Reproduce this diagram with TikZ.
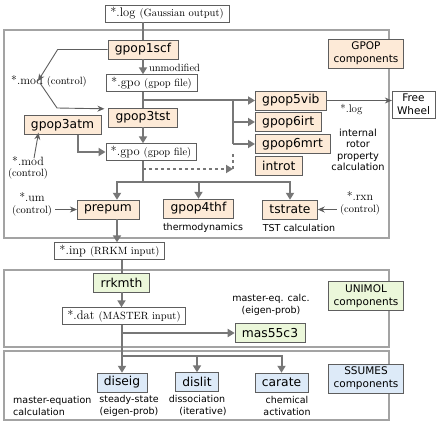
\documentclass[tikz,border=0pt]{standalone}
\usepackage{fontspec}
\setsansfont{DejaVu Sans}
\usetikzlibrary{arrows.meta}
\definecolor{peach}{HTML}{FDEAD7}
\definecolor{mint}{HTML}{EBF7DA}
\definecolor{sky}{HTML}{DDEAF8}
\definecolor{wire}{HTML}{777777}
\definecolor{rim}{HTML}{A3A3A3}
\definecolor{boxedge}{HTML}{5E5E5E}
\newcommand{\ext}[2]{#1 {\fontsize{10.5}{12}\selectfont #2}}

\begin{document}
\begin{tikzpicture}[x=1pt,y=-1pt,
	prog/.style={draw=boxedge,fill=peach,font=\sffamily\fontsize{12.3}{14}\selectfont,inner xsep=7pt,inner ysep=0pt,minimum height=19pt},
	uprog/.style={prog,fill=mint},
	sprog/.style={prog,fill=sky},
	filebox/.style={draw=boxedge,fill=white,font=\fontsize{12.5}{14}\selectfont,inner xsep=5pt,inner ysep=0pt,minimum height=17pt},
	tag/.style={draw=boxedge,font=\sffamily\fontsize{10.5}{13}\selectfont,align=center,inner xsep=5pt,inner ysep=3pt},
	note/.style={font=\sffamily\fontsize{9.5}{12}\selectfont,align=center,inner sep=0pt},
	ctrl/.style={font=\fontsize{12}{11.5}\selectfont,align=center,inner sep=0pt},
	frame/.style={draw=rim,line width=1.2pt},
	line/.style={draw=wire,line width=2pt},
	link/.style={line,-{Triangle[length=7pt,width=8pt]}},
	tlink/.style={draw=boxedge,line width=0.9pt,-{Stealth[length=7pt,width=6pt]}}]
	\useasboundingbox (0,0) rectangle (442,425);
	
	% component frames
	\draw[frame] (4,30) rectangle (389,238);
	\draw[frame] (4,270) rectangle (389,347);
	\draw[frame] (4,351) rectangle (389,420);
	
	% GPOP part
	\node[filebox] (log) at (167,13.5) {\ext{*.log}{(Gaussian output)}};
	\node[prog] (gpop1scf) at (143,49.5) {gpop1scf};
	\node[filebox] (gpo1) at (151.5,83) {\ext{*.gpo}{(gpop file)}};
	\node[ctrl] (mod1) at (49,81) {\ext{*.mod}{(control)}};
	\node[prog] (gpop3tst) at (143,117.5) {gpop3tst};
	\node[prog] (gpop3atm) at (62.5,125) {gpop3atm};
	\node[ctrl] (mod2) at (28,168) {*.mod\\{\fontsize{10.5}{12}\selectfont (control)}};
	\node[filebox] (gpo2) at (151,152) {\ext{*.gpo}{(gpop file)}};
	\node[prog,anchor=west] (gpop5vib) at (255,100.5) {gpop5vib};
	\node[prog,anchor=west] (gpop6irt) at (255,122) {gpop6irt};
	\node[prog,anchor=west] (gpop6mrt) at (255,144) {gpop6mrt};
	\node[prog,anchor=west] (introt) at (255,166) {introt};
	\node[tag] (free) at (413.5,104.5) {Free\\Wheel};
	\node[tag,fill=peach] (gpopc) at (366,53.5) {GPOP\\components};
	\node[note,font=\sffamily\fontsize{9.8}{11.5}\selectfont] (rotor) at (358,150) {internal\\rotor\\property\\calculation};
	\node[prog] (prepum) at (108,209.5) {prepum};
	\node[ctrl] (um) at (32,204.5) {*.um\\{\fontsize{10.5}{12}\selectfont (control)}};
	\node[prog] (gpop4thf) at (198.5,208.5) {gpop4thf};
	\node[note] (thermo) at (203,228) {thermodynamics};
	\node[prog] (tstrate) at (290,209.5) {tstrate};
	\node[note] (tst) at (299,228) {TST calculation};
	\node[ctrl] (rxn) at (360,203.5) {*.rxn\\{\fontsize{10.5}{12}\selectfont (control)}};
	\node[filebox] (inp) at (109.5,251) {\ext{*.inp}{(RRKM input)}};
	
	% UNIMOL part
	\node[tag,fill=mint] (unimolc) at (366,296) {UNIMOL\\components};
	\node[uprog] (rrkmth) at (121.5,282.5) {rrkmth};
	\node[filebox] (dat) at (124,316) {\ext{*.dat}{(MASTER input)}};
	\node[uprog] (mas55c3) at (270,333) {mas55c3};
	\node[note] (meq) at (271,305) {master-eq. calc.\\(eigen-prob)};
	
	% SSUMES part
	\node[tag,fill=sky] (ssumesc) at (366,378.5) {SSUMES\\components};
	\node[sprog] (diseig) at (122,382.5) {diseig};
	\node[sprog] (dislit) at (197,382) {dislit};
	\node[sprog] (carate) at (281.5,382.5) {carate};
	\node[note,align=left,anchor=west] (mecalc) at (13,405.5) {master-equation\\calculation};
	\node[note] (steady) at (129,405.5) {steady-state\\(eigen-prob)};
	\node[note] (dissoc) at (197,405.5) {dissociation\\\hspace*{12pt}(iterative)};
	\node[note] (chem) at (287,405.5) {chemical\\activation};
	
	\coordinate (fork) at (233,100);
	\coordinate (dash) at (143,169);
	\coordinate (split) at (143,182);
	\coordinate (ss) at (122,356);
	
	% flow
	\draw[line] (gpop1scf.north |- log.south) -- (gpop1scf.north);
	\draw[link] (gpop1scf) -- (gpop1scf |- gpo1.north)
		node[pos=0.6,right=5pt,inner sep=0pt,font=\fontsize{10.5}{12}\selectfont] {unmodified};
	\draw[line] (gpo1.south -| gpop3tst) -- (gpop3tst.north);
	\draw[link] (gpop3tst.north |- gpop5vib) -- (gpop5vib.west);
	\draw[line] (fork |- gpop5vib) -- (fork |- gpop6mrt);
	\draw[link] (fork |- gpop6irt) -- (gpop6irt.west);
	\draw[link] (fork |- gpop6mrt) -- (gpop6mrt.west);
	\draw[link] (gpop3tst) -- (gpop3tst |- gpo2.north);
	\draw[link] ([xshift=15pt]gpop3atm.south) |- (gpo2.west);
	\draw[line] (gpo2.south -| split) -- (split);
	\draw[link,dashed] (dash) -- (dash -| fork);
	\draw[line,dashed] (dash -| fork) -- ([yshift=2pt]fork |- gpop6mrt.south);
	\draw[link] (split) -| ([xshift=9pt]prepum.north);
	\draw[link] (split -| gpop4thf) -- (gpop4thf.north);
	\draw[link] (split) -| (tstrate.north);
	\draw[link] ([xshift=9pt]prepum.south) -- ([xshift=9pt]prepum.south |- inp.north);
	\draw[line] (inp.south -| rrkmth) -- (rrkmth.north);
	\draw[link] (rrkmth) -- (rrkmth |- dat.north);
	\draw[link] (dat.south -| diseig) -- (diseig.north);
	\draw[link] (diseig |- mas55c3) -- (mas55c3.west);
	\draw[link] (ss) -| (carate.north);
	\draw[link] (ss -| dislit) -- (dislit.north);
	
	% control files
	\draw[tlink] (gpop1scf.west) -- ++(-50,0) -- ([xshift=-11pt,yshift=-6pt]mod1.north);
	\draw[tlink] ([xshift=-9pt,yshift=4pt]mod1.south) -- (57,108) -- ([xshift=-4pt,yshift=-1pt]gpop3tst.north west);
	\draw[tlink] ([xshift=6pt,yshift=-2pt]mod2.north) -- ([xshift=-24pt,yshift=2pt]gpop3atm.south);
	\draw[tlink] ([xshift=3pt]um.east |- prepum) -- (prepum.west);
	\draw[tlink] ([xshift=-3pt]rxn.west |- tstrate) -- (tstrate.east);
	\draw[tlink] (gpop5vib.east) -- (free.west |- gpop5vib)
		node[pos=0.38,below=3pt,inner sep=0pt,font=\fontsize{11}{12}\selectfont] {*.log};
\end{tikzpicture}
\end{document}
